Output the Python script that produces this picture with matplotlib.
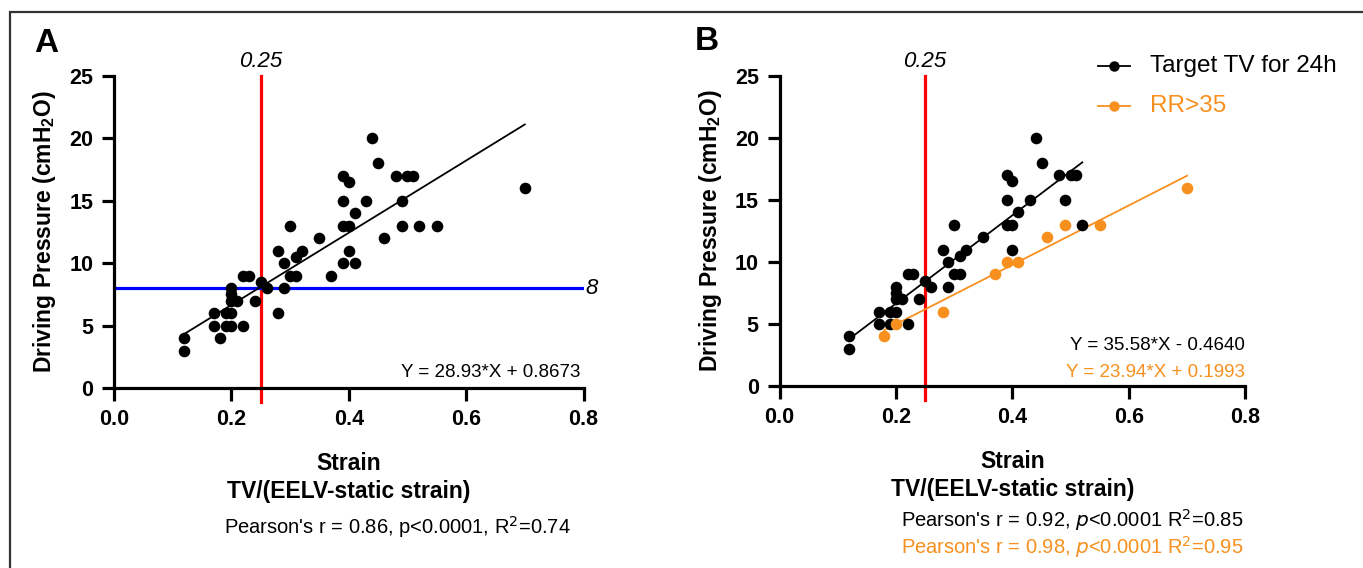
import matplotlib.pyplot as plt
from matplotlib.patches import Rectangle
import numpy as np

plt.rcParams['font.family'] = ['Liberation Sans', 'DejaVu Sans']

# Panel B groups (panel A shows both groups together)
target_x = [0.12, 0.12, 0.17, 0.17, 0.19, 0.19, 0.20, 0.20, 0.20, 0.20, 0.21, 0.22, 0.22, 0.23,
            0.24, 0.25, 0.26, 0.28, 0.29, 0.29, 0.30, 0.30, 0.31, 0.31, 0.32, 0.35, 0.39, 0.40,
            0.39, 0.41, 0.39, 0.40, 0.40, 0.44, 0.45, 0.43, 0.48, 0.50, 0.51, 0.49, 0.52]
target_y = [4, 3, 6, 5, 6, 5, 8, 7.5, 7, 6, 7, 5, 9, 9,
            7, 8.5, 8, 11, 10, 8, 13, 9, 9, 10.5, 11, 12, 17, 16.5,
            15, 14, 13, 13, 11, 20, 18, 15, 17, 17, 17, 15, 13]
rr_x = [0.18, 0.20, 0.28, 0.37, 0.39, 0.41, 0.46, 0.49, 0.55, 0.70]
rr_y = [4, 5, 6, 9, 10, 10, 12, 13, 13, 16]

all_x = target_x + rr_x
all_y = target_y + rr_y

fit_all = (28.93, 0.8673)
fit_target = (35.58, -0.4640)
fit_rr = (23.94, 0.1993)

strain_cut = 0.25
dp_cut = 8

ORANGE = '#F7901E'
W, H = 1363, 568
DOT = 70


def fpos(x, y):
    return x / W, 1 - y / H


def style_axes(ax):
    ax.set_xlim(0, 0.8)
    ax.set_ylim(0, 25)
    ax.set_xticks([0.0, 0.2, 0.4, 0.6, 0.8])
    ax.set_yticks([0, 5, 10, 15, 20, 25])
    ax.set_xticklabels(['0.0', '0.2', '0.4', '0.6', '0.8'])
    for s in ['top', 'right']:
        ax.spines[s].set_visible(False)
    for s in ['left', 'bottom']:
        ax.spines[s].set_linewidth(2.3)
    ax.tick_params(width=2.3, length=9, labelsize=15.5, pad=6)
    for lab in ax.get_xticklabels() + ax.get_yticklabels():
        lab.set_fontweight('bold')
    ax.set_ylabel('Driving Pressure (cmH$_\\mathregular{2}$O)', fontsize=16.5, fontweight='bold', labelpad=8)
    ax.set_xlabel('Strain\nTV/(EELV-static strain)', fontsize=16.5, fontweight='bold',
                  labelpad=16, linespacing=1.3)
    # red strain threshold, running into the tick zone
    ax.plot([strain_cut, strain_cut], [-0.045, 1.0], color='red', lw=2.3,
            transform=ax.get_xaxis_transform(), clip_on=False, zorder=1)
    ax.text(strain_cut, 1.012, '0.25', transform=ax.get_xaxis_transform(),
            ha='center', va='bottom', fontsize=16, fontstyle='italic')


fig = plt.figure(figsize=(W / 100, H / 100), dpi=100)

# ---- panel A ----
axA = fig.add_axes([114 / W, 1 - 388 / H, 469.5 / W, 312 / H])
style_axes(axA)
axA.axhline(dp_cut, color='#0000FF', lw=2.3, zorder=1)
axA.text(0.803, dp_cut, '8', ha='left', va='center', fontsize=16, fontstyle='italic', clip_on=False)
axA.scatter(all_x, all_y, s=DOT, color='black', zorder=3, linewidths=0)
xs = np.array([min(all_x), max(all_x)])
axA.plot(xs, fit_all[0] * xs + fit_all[1], color='black', lw=1.3, zorder=2)
axA.text(0.795, 0.55, 'Y = 28.93*X + 0.8673', ha='right', va='bottom', fontsize=13.5)

# ---- panel B ----
axB = fig.add_axes([779.6 / W, 1 - 386 / H, 465.7 / W, 310 / H])
style_axes(axB)
axB.scatter(target_x, target_y, s=DOT, color='black', zorder=3, linewidths=0)
axB.scatter(rr_x, rr_y, s=DOT, color=ORANGE, zorder=3, linewidths=0)
xs = np.array([min(target_x), max(target_x)])
axB.plot(xs, fit_target[0] * xs + fit_target[1], color='black', lw=1.3, zorder=2)
xs = np.array([min(rr_x), max(rr_x)])
axB.plot(xs, fit_rr[0] * xs + fit_rr[1], color=ORANGE, lw=1.3, zorder=2)
axB.text(0.8, 2.55, 'Y = 35.58*X - 0.4640', ha='right', va='bottom', fontsize=13.5)
axB.text(0.8, 0.4, 'Y = 23.94*X + 0.1993', ha='right', va='bottom', fontsize=13.5, color=ORANGE)

# legend drawn by hand at the top right
for i, (lab, col) in enumerate([('Target TV for 24h', 'black'), ('RR>35', ORANGE)]):
    yy = 66 + i * 40
    x0, y0 = fpos(1098, yy)
    x1, _ = fpos(1130, yy)
    fig.add_artist(plt.Line2D([x0, x1], [y0, y0], color=col, lw=1.3))
    fig.add_artist(plt.Line2D([(x0 + x1) / 2], [y0], color=col, marker='o', ms=6.5))
    fig.text(*fpos(1150, yy), lab, ha='left', va='center', fontsize=17.5, color='black' if i == 0 else ORANGE)

# stats lines under each panel
fig.text(*fpos(397, 527), "Pearson's r = 0.86, p<0.0001, R$^2$=0.74", ha='center', va='center', fontsize=14.5)
fig.text(*fpos(1243, 520), "Pearson's r = 0.92, $\\it{p}$<0.0001 R$^2$=0.85", ha='right', va='center', fontsize=14.5)
fig.text(*fpos(1243, 547), "Pearson's r = 0.98, $\\it{p}$<0.0001 R$^2$=0.95", ha='right', va='center',
         fontsize=14.5, color=ORANGE)

# panel letters
fig.text(*fpos(34, 43), 'A', fontsize=24, fontweight='bold', va='center', ha='left')
fig.text(*fpos(695, 42), 'B', fontsize=24, fontweight='bold', va='center', ha='left')

# outer frame, only the top and left sides show
fig.add_artist(Rectangle(fpos(10, H + 20), 1.2, (H + 8) / H, transform=fig.transFigure,
                         fill=False, edgecolor='#333333', lw=1.6))

fig.savefig('out.png', dpi=100)
